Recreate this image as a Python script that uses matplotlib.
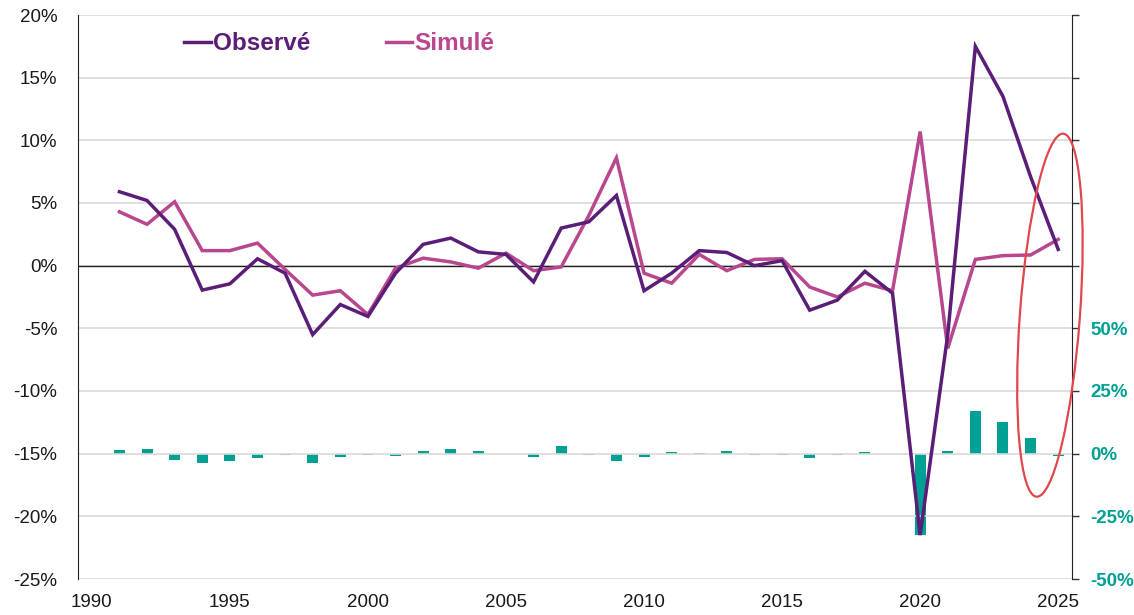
import matplotlib
matplotlib.use("Agg")
import matplotlib.pyplot as plt
from matplotlib.patches import Ellipse
from matplotlib.transforms import ScaledTranslation

plt.rcParams['font.family'] = ['Liberation Sans', 'DejaVu Sans']

# Données
annees = list(range(1991, 2026))
observe = [5.9, 5.2, 2.9, -1.95, -1.45, 0.55, -0.6, -5.5, -3.1, -4.05,
           -0.6, 1.7, 2.2, 1.1, 0.9, -1.3, 3.0, 3.5, 5.6, -2.0,
           -0.6, 1.2, 1.05, 0.0, 0.4, -3.55, -2.75, -0.45, -2.2, -21.5,
           -5.5, 17.5, 13.5, 7.1, 1.3]
simule = [4.3, 3.3, 5.1, 1.2, 1.2, 1.8, -0.3, -2.35, -2.0, -3.9,
          -0.2, 0.6, 0.3, -0.2, 1.0, -0.4, -0.1, 4.0, 8.6, -0.6,
          -1.4, 0.9, -0.4, 0.5, 0.55, -1.7, -2.5, -1.4, -2.0, 10.7,
          -6.6, 0.5, 0.8, 0.85, 2.1]
ecart = [1.3, 1.7, -2.4, -3.6, -2.8, -1.6, -0.5, -3.6, -1.2, -0.4,
         -0.8, 0.9, 1.7, 0.9, -0.3, -1.2, 3.0, -0.6, -2.8, -1.3,
         0.8, 0.4, 1.2, -0.7, -0.4, -1.9, -0.4, 0.8, -0.3, -32.4,
         1.1, 17.2, 12.5, 6.1, -0.9]

violet = '#5B1E78'
rose = '#B8478E'
vert = '#00A094'
rouge = '#E0474C'

fig = plt.figure(figsize=(11.34, 6.15), dpi=100)
ax = fig.add_axes([78 / 1134, 1 - 579 / 615, (1072 - 78) / 1134, (579 - 15) / 615])
ax2 = ax.twinx()
ax.set_zorder(ax2.get_zorder() + 1)
ax.patch.set_visible(False)

# Barres (axe de droite)
ax2.bar(annees, ecart, width=0.4, color=vert, zorder=2)
ax2.set_ylim(-50, 175)
ticks_d = list(range(-50, 200, 25))
ax2.set_yticks(ticks_d)
ax2.set_yticklabels([f"{v}%" if v <= 50 else "" for v in ticks_d])
ax2.tick_params(axis='y', length=5, width=1, pad=8, labelsize=13.5,
                labelcolor=vert, color='#333333')
for t in ax2.get_yticklabels():
    t.set_fontweight('bold')

# Courbes (axe de gauche)
ax.set_ylim(-25, 20)
ax.set_xlim(1989.5, 2025.5)
ax.set_yticks(range(-25, 21, 5))
ax.set_yticklabels([f"{v}%" for v in range(-25, 21, 5)])
ax.set_xticks(range(1990, 2026, 5))
ax.grid(axis='y', color='#D9D9D9', linewidth=1.2)
ax.set_axisbelow(True)
ax.axhline(0, color='#222222', linewidth=1, zorder=2)
l1, = ax.plot(annees, observe, color=violet, linewidth=2.5, zorder=4, label='Observé',
              solid_joinstyle='miter')
l2, = ax.plot(annees, simule, color=rose, linewidth=2.5, zorder=3, label='Simulé',
              solid_joinstyle='miter')
ax.tick_params(axis='y', length=0, pad=15, labelsize=13.5, labelcolor='#1a1a1a')
ax.tick_params(axis='x', length=0, pad=11, labelsize=13.5, labelcolor='#1a1a1a')

for a in (ax, ax2):
    a.spines['top'].set_visible(False)
    a.spines['bottom'].set_visible(False)
    a.spines['left'].set_visible(False)
    a.spines['right'].set_visible(False)
ax.spines['left'].set_visible(True)
ax.spines['left'].set_color('#222222')
ax2.spines['right'].set_visible(True)
ax2.spines['right'].set_color('#222222')

# Légende
leg = fig.legend(handles=[l1, l2], loc='center left', bbox_to_anchor=(172 / 1134, 1 - 44 / 615),
                 ncol=2, frameon=False, borderpad=0, handlelength=1.1, handletextpad=0.08,
                 columnspacing=3.1, prop={'weight': 'bold', 'size': 17.5})
for txt, c in zip(leg.get_texts(), [violet, rose]):
    txt.set_color(c)

# Ellipse rouge
tr = fig.dpi_scale_trans + ScaledTranslation(2024.7, -3.95, ax.transData)
ell = Ellipse((0, 0), width=0.6, height=3.64, angle=-4.2, transform=tr,
              fill=False, edgecolor=rouge, linewidth=1.6, clip_on=False, zorder=10)
ax.add_patch(ell)

fig.savefig('out.png', dpi=100)
